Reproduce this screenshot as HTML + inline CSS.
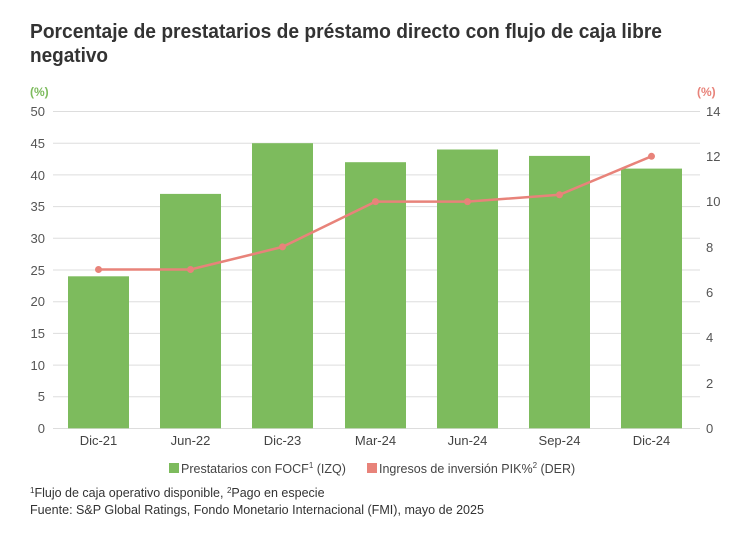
<!DOCTYPE html>
<html><head><meta charset="utf-8"><style>
body{margin:0;background:#fff;width:744px;height:529px;overflow:hidden;font-family:"Liberation Sans",sans-serif}
</style></head><body>
<svg width="744" height="529" xmlns="http://www.w3.org/2000/svg" font-family="Liberation Sans, sans-serif">
<text x="30" y="38" font-size="20" font-weight="bold" fill="#333" textLength="632" lengthAdjust="spacingAndGlyphs">Porcentaje de prestatarios de préstamo directo con flujo de caja libre</text>
<text x="30" y="62" font-size="20" font-weight="bold" fill="#333" textLength="78" lengthAdjust="spacingAndGlyphs">negativo</text>
<text x="30" y="96" font-size="12" font-weight="bold" fill="#7dbb5d">(%)</text>
<text x="697" y="96" font-size="12" font-weight="bold" fill="#e8837a">(%)</text>
<g stroke="#ddd" stroke-width="1">
<line x1="53" x2="700" y1="111.5" y2="111.5"/><line x1="53" x2="700" y1="143.2" y2="143.2"/><line x1="53" x2="700" y1="174.9" y2="174.9"/><line x1="53" x2="700" y1="206.6" y2="206.6"/><line x1="53" x2="700" y1="238.3" y2="238.3"/><line x1="53" x2="700" y1="270" y2="270"/><line x1="53" x2="700" y1="301.7" y2="301.7"/><line x1="53" x2="700" y1="333.4" y2="333.4"/><line x1="53" x2="700" y1="365.1" y2="365.1"/><line x1="53" x2="700" y1="396.8" y2="396.8"/><line x1="53" x2="700" y1="428.5" y2="428.5"/>
</g>
<g font-size="13" fill="#555" text-anchor="end">
<text x="45" y="116">50</text><text x="45" y="148">45</text><text x="45" y="180">40</text><text x="45" y="211">35</text><text x="45" y="243">30</text><text x="45" y="275">25</text><text x="45" y="306">20</text><text x="45" y="338">15</text><text x="45" y="370">10</text><text x="45" y="401">5</text><text x="45" y="433">0</text>
</g>
<g font-size="13" fill="#555" text-anchor="start">
<text x="706" y="116">14</text><text x="706" y="161">12</text><text x="706" y="206">10</text><text x="706" y="252">8</text><text x="706" y="297">6</text><text x="706" y="342">4</text><text x="706" y="388">2</text><text x="706" y="433">0</text>
</g>
<g fill="#7dbb5d">
<rect x="68" y="276.3" width="61" height="152"/>
<rect x="160" y="193.9" width="61" height="234.4"/>
<rect x="252" y="143.2" width="61" height="285.1"/>
<rect x="345" y="162.2" width="61" height="266.1"/>
<rect x="437" y="149.5" width="61" height="278.8"/>
<rect x="529" y="155.9" width="61" height="272.4"/>
<rect x="621" y="168.6" width="61" height="259.7"/>
</g>
<polyline fill="none" stroke="#e8837a" stroke-width="2.5" points="98.5,269.5 190.5,269.5 282.5,246.9 375.5,201.6 467.5,201.6 559.5,194.8 651.5,156.3"/>
<g fill="#e8837a">
<circle cx="98.5" cy="269.5" r="3.5"/><circle cx="190.5" cy="269.5" r="3.5"/><circle cx="282.5" cy="246.9" r="3.5"/><circle cx="375.5" cy="201.6" r="3.5"/><circle cx="467.5" cy="201.6" r="3.5"/><circle cx="559.5" cy="194.8" r="3.5"/><circle cx="651.5" cy="156.3" r="3.5"/>
</g>
<g font-size="13" fill="#444" text-anchor="middle">
<text x="98.5" y="445">Dic-21</text><text x="190.5" y="445">Jun-22</text><text x="282.5" y="445">Dic-23</text><text x="375.5" y="445">Mar-24</text><text x="467.5" y="445">Jun-24</text><text x="559.5" y="445">Sep-24</text><text x="651.5" y="445">Dic-24</text>
</g>
<rect x="169" y="463" width="10" height="10" fill="#7dbb5d"/>
<text x="181" y="473" font-size="12.5" fill="#444">Prestatarios con FOCF<tspan font-size="8" dy="-5">1</tspan><tspan dy="5"> (IZQ)</tspan></text>
<rect x="367" y="463" width="10" height="10" fill="#e8837a"/>
<text x="379" y="473" font-size="12.5" fill="#444">Ingresos de inversión PIK%<tspan font-size="8" dy="-5">2</tspan><tspan dy="5"> (DER)</tspan></text>
<text x="30" y="497" font-size="12.5" fill="#333"><tspan font-size="8" dy="-4">1</tspan><tspan dy="4">Flujo de caja operativo disponible, </tspan><tspan font-size="8" dy="-4">2</tspan><tspan dy="4">Pago en especie</tspan></text>
<text x="30" y="514" font-size="12.5" fill="#333" textLength="454" lengthAdjust="spacingAndGlyphs">Fuente: S&amp;P Global Ratings, Fondo Monetario Internacional (FMI), mayo de 2025</text>
</svg>
</body></html>
